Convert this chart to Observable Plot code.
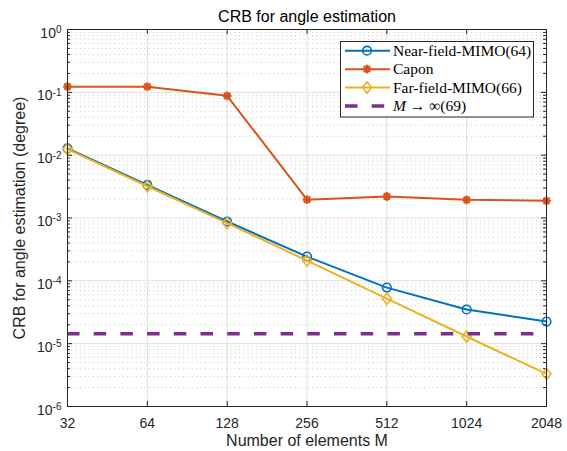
<!DOCTYPE html>
<html><head><meta charset="utf-8">
<script src="https://cdn.jsdelivr.net/npm/d3@7"></script>
<script src="https://cdn.jsdelivr.net/npm/@observablehq/plot@0.6"></script>
<style>
html,body{margin:0;padding:0;background:#fff;}
#chart{width:567px;height:451px;}
</style></head><body><div id="chart"></div>
<script>
// ---- data ----
const M = [32, 64, 128, 256, 512, 1024, 2048];
const nearField = [1.28e-2, 3.36e-3, 8.8e-4, 2.43e-4, 7.8e-5, 3.5e-5, 2.25e-5];
const capon = [0.123, 0.123, 0.088, 1.96e-3, 2.2e-3, 1.95e-3, 1.88e-3];
const farField = [1.25e-2, 3.2e-3, 8.3e-4, 2.1e-4, 5.2e-5, 1.3e-5, 3.3e-6];
const limitValue = 1.44e-5;
const xTicks = [32, 64, 128, 256, 512, 1024, 2048];
const yDecades = [1e-6, 1e-5, 1e-4, 1e-3, 1e-2, 1e-1, 1];
const seriesLabels = ["Near-field-MIMO(64)", "Capon", "Far-field-MIMO(66)", "M → ∞(69)"];
const titleText = "CRB for angle estimation";
const xLabel = "Number of elements M";
const yLabel = "CRB for angle estimation (degree)";

const yMinor = [];
for (let k = -6; k < 0; k++) for (let m = 2; m <= 9; m++) yMinor.push(m * Math.pow(10, k));

const rows = M.map((m, i) => ({M: m, near: nearField[i], capon: capon[i], far: farField[i]}));

const blue = "#0072BD", orange = "#D95319", yellow = "#EDB120", purple = "#7E2F8E";
const axisColor = "#262626";

// custom marker symbols
const circleSym = {draw(ctx, size) { const r = Math.sqrt(size / Math.PI); ctx.moveTo(r, 0); ctx.arc(0, 0, r, 0, 2 * Math.PI); }};
const diamondSym = {draw(ctx, size) { const r = Math.sqrt(size / Math.PI); const w = r * 0.98, h = r * 1.22;
  ctx.moveTo(0, -h); ctx.lineTo(w, 0); ctx.lineTo(0, h); ctx.lineTo(-w, 0); ctx.closePath(); }};
const starSym = {draw(ctx, size) { const r = Math.sqrt(size / Math.PI); const d = r * Math.SQRT1_2;
  ctx.moveTo(-r, 0); ctx.lineTo(r, 0); ctx.moveTo(0, -r); ctx.lineTo(0, r);
  ctx.moveTo(-d, -d); ctx.lineTo(d, d); ctx.moveTo(-d, d); ctx.lineTo(d, -d); }};

const W = 567, H = 451, mL = 67, mR = 21, mT = 29, mB = 45;
const frameW = W - mL - mR, frameH = H - mT - mB;

const plot = Plot.plot({
  width: W, height: H,
  marginLeft: mL, marginRight: mR, marginTop: mT, marginBottom: mB,
  style: {fontFamily: "'Liberation Sans', Arial, Helvetica, sans-serif", background: "#fff", color: axisColor, overflow: "visible"},
  x: {type: "log", base: 2, domain: [32, 2048]},
  y: {type: "log", domain: [1e-6, 1]},
  marks: [
    Plot.gridX({ticks: xTicks, stroke: "#dfdfdf", strokeOpacity: 1, strokeWidth: 1}),
    Plot.gridY({ticks: yDecades, stroke: "#dfdfdf", strokeOpacity: 1, strokeWidth: 1}),
    Plot.ruleY(yMinor, {y: d => d, stroke: "#c4c4c4", strokeWidth: 1, strokeDasharray: "1,3.3"}),
    // inward tick marks
    Plot.tickY(yDecades, {y: d => d, stroke: axisColor, insetRight: frameW - 5}),
    Plot.tickY(yDecades, {y: d => d, stroke: axisColor, insetLeft: frameW - 5}),
    Plot.tickY(yMinor, {y: d => d, stroke: axisColor, insetRight: frameW - 3}),
    Plot.tickY(yMinor, {y: d => d, stroke: axisColor, insetLeft: frameW - 3}),
    Plot.tickX(xTicks, {x: d => d, stroke: axisColor, insetBottom: frameH - 5}),
    Plot.tickX(xTicks, {x: d => d, stroke: axisColor, insetTop: frameH - 5}),
    Plot.axisX({ticks: xTicks, tickSize: 0, tickPadding: 12, fontSize: 14, tickFormat: d => String(d), label: null}),
    Plot.axisY({ticks: yDecades, tickSize: 0, tickPadding: 6, fontSize: 14, tickFormat: d => String(Math.round(Math.log10(d))), label: null}),
    // series
    Plot.line(rows, {x: "M", y: "near", stroke: blue, strokeWidth: 2}),
    Plot.dot(rows, {x: "M", y: "near", symbol: circleSym, r: 4.3, stroke: blue, strokeWidth: 1.6, fill: "none"}),
    Plot.line(rows, {x: "M", y: "capon", stroke: orange, strokeWidth: 2}),
    Plot.dot(rows, {x: "M", y: "capon", symbol: starSym, r: 4.4, stroke: orange, strokeWidth: 2.2, fill: "none"}),
    Plot.line(rows, {x: "M", y: "far", stroke: yellow, strokeWidth: 2}),
    Plot.dot(rows, {x: "M", y: "far", symbol: diamondSym, r: 4.6, stroke: yellow, strokeWidth: 1.6, fill: "none"}),
    Plot.ruleY([limitValue], {y: d => d, stroke: purple, strokeWidth: 3.5, strokeDasharray: "12.5,14.2"}),
    Plot.frame({stroke: axisColor, strokeWidth: 1}),
    // title & labels
    Plot.text([titleText], {text: d => d, frameAnchor: "top", dy: -7.5, lineAnchor: "bottom", fontSize: 16, fill: "#000"}),
    Plot.text([xLabel], {text: d => d, frameAnchor: "bottom", dy: 39, lineAnchor: "bottom", fontSize: 16, fill: axisColor}),
    Plot.text([yLabel], {text: d => d, frameAnchor: "left", dx: -54, rotate: -90, lineAnchor: "top", textAnchor: "middle", fontSize: 16, fill: axisColor})
  ]
});

const svg = d3.select(plot);
// superscript exponents on y tick labels
svg.selectAll('g[aria-label="y-axis tick label"] text').each(function () {
  const e = this.textContent;
  const t = d3.select(this);
  t.text(null).attr("y", 8);
  t.append("tspan").text("10");
  t.append("tspan").attr("dy", -4.6).attr("font-size", 10).text(e);
});

// legend
const legendEntries = [
  {label: seriesLabels[0], color: blue, sym: circleSym, r: 4.3, sw: 1.6},
  {label: seriesLabels[1], color: orange, sym: starSym, r: 4.4, sw: 2.2},
  {label: seriesLabels[2], color: yellow, sym: diamondSym, r: 4.6, sw: 1.6},
  {label: seriesLabels[3], color: purple, dash: true}
];
const lg = svg.append("g").attr("font-family", "'Liberation Serif', 'Times New Roman', serif")
  .attr("font-size", 15.5).attr("fill", "#000").attr("text-anchor", "start");
lg.append("rect").attr("x", 340.5).attr("y", 41.5).attr("width", 193).attr("height", 75.5)
  .attr("fill", "#fff").attr("stroke", axisColor).attr("stroke-width", 1);
legendEntries.forEach((d, i) => {
  const cy = 50.7 + i * 18.45;
  const g = lg.append("g");
  if (d.dash) {
    g.append("line").attr("x1", 345).attr("x2", 390).attr("y1", cy).attr("y2", cy)
      .attr("stroke", d.color).attr("stroke-width", 3.5).attr("stroke-dasharray", "12.5,14.2");
  } else {
    g.append("line").attr("x1", 345).attr("x2", 390).attr("y1", cy).attr("y2", cy)
      .attr("stroke", d.color).attr("stroke-width", 2);
    g.append("path").attr("transform", `translate(367,${cy})`)
      .attr("d", d3.symbol(d.sym, Math.PI * d.r * d.r)())
      .attr("fill", "none").attr("stroke", d.color).attr("stroke-width", d.sw);
  }
  const t = g.append("text").attr("x", 393).attr("y", cy + 5.2).attr("text-anchor", "start");
  if (d.dash) {
    const parts = d.label.split(" ");
    t.append("tspan").attr("font-style", "italic").text(parts[0]);
    t.append("tspan").text(" " + parts.slice(1).join(" "));
  } else {
    t.text(d.label);
  }
});

document.getElementById("chart").appendChild(plot);
</script></body></html>
